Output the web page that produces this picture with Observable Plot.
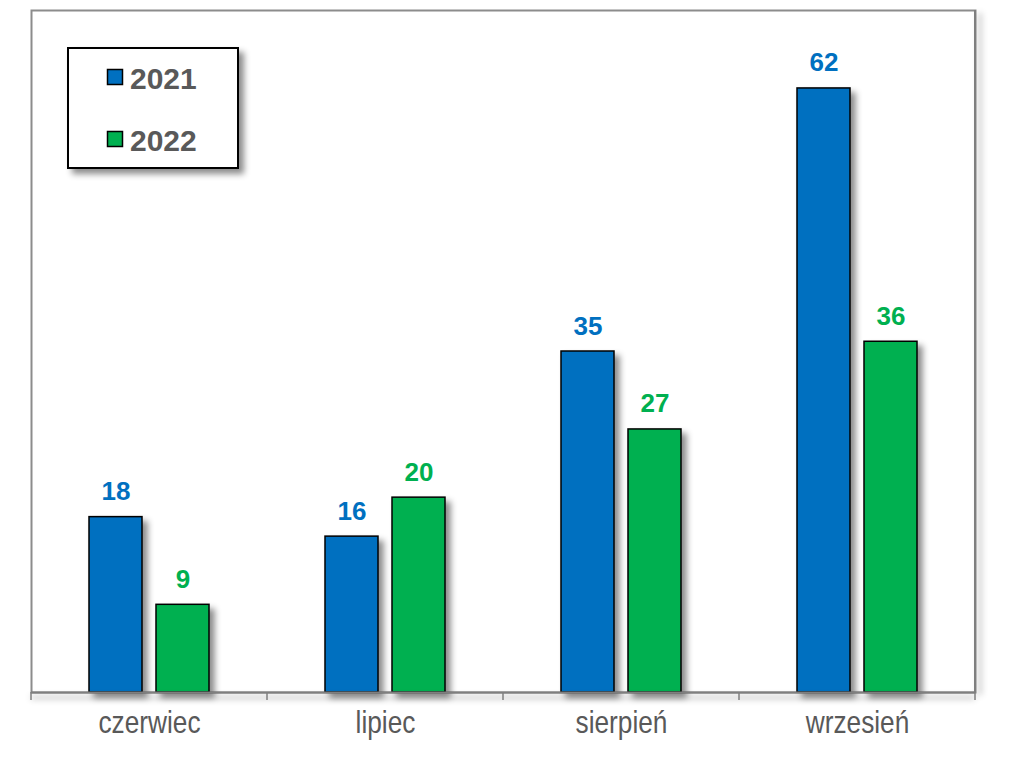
<!DOCTYPE html>
<html>
<head>
<meta charset="utf-8">
<script src="https://cdn.jsdelivr.net/npm/d3@7"></script>
<script src="https://cdn.jsdelivr.net/npm/@observablehq/plot@0.6"></script>
<style>
  body { margin: 0; background: #fff; }
  #chart { width: 1024px; height: 771px; }
</style>
</head>
<body>
<div id="chart"></div>
<script>
// ---- data ----
const months = ["czerwiec", "lipiec", "sierpień", "wrzesień"];
const years = ["2021", "2022"];
const values2021 = [18, 16, 35, 62];
const values2022 = [9, 20, 27, 36];
const colors = ["#0070C0", "#00B050"];

const rows = months.map((m, i) => ({ month: m, v2021: values2021[i], v2022: values2022[i] }));

const FONT = "'Liberation Sans', Arial, Helvetica, sans-serif";
const SHADOW = "drop-shadow(5px 5px 3px rgba(0,0,0,0.45))";

const chart = Plot.plot({
  width: 1024,
  height: 771,
  marginLeft: 31,
  marginRight: 49,
  marginTop: 10,
  marginBottom: 79,
  style: { fontFamily: FONT, background: "#fff", overflow: "visible" },
  x: { domain: months, padding: 0, axis: null },
  y: { domain: [0, 70], axis: null },
  marks: [
    Plot.frame({ stroke: "#8c8c8c", strokeWidth: 2 }),
    Plot.barY(rows, { x: "month", y: "v2021", fill: colors[0], stroke: "#000", strokeWidth: 1.5, insetLeft: 58, insetRight: 125 }),
    Plot.barY(rows, { x: "month", y: "v2022", fill: colors[1], stroke: "#000", strokeWidth: 1.5, insetLeft: 125, insetRight: 58 }),
    Plot.text(rows, { x: "month", y: "v2021", text: "v2021", dx: -33.5, dy: -17, lineAnchor: "bottom", fill: colors[0], fontSize: 26, fontWeight: "bold" }),
    Plot.text(rows, { x: "month", y: "v2022", text: "v2022", dx: 33.5, dy: -17, lineAnchor: "bottom", fill: colors[1], fontSize: 26, fontWeight: "bold" }),
    Plot.ruleY([0], { stroke: "#7f7f7f", strokeWidth: 2 }),
    Plot.text(months, { x: d => d, text: d => d, frameAnchor: "bottom", lineAnchor: "bottom", dy: 40, fontSize: 32, fill: "#595959" })
  ]
});

document.getElementById("chart").appendChild(chart);

const svg = d3.select(chart);
svg.selectAll('g[aria-label="bar"]').style("filter", SHADOW);
svg.selectAll('g[aria-label="rule"]').style("filter", "drop-shadow(0px 5px 3px rgba(0,0,0,0.4))");

// condensed look for category labels (horizontal squeeze around each label's anchor)
svg.selectAll('g[aria-label="text"]').filter((d, i) => i === 2).selectAll("text").each(function () {
  const el = this;
  const t = el.getAttribute("transform") || "";
  const x = el.getAttribute("x"), y = el.getAttribute("y");
  if (x !== null || y !== null) {
    el.removeAttribute("x"); el.removeAttribute("y");
    el.setAttribute("transform", `${t} translate(${x || 0},${y || 0}) scale(0.82,1)`);
  } else {
    el.setAttribute("transform", `${t} scale(0.82,1)`);
  }
});

// scale-derived geometry
const xs = chart.scale("x");
const ys = chart.scale("y");
const [x0, x1] = xs.range;
const n = xs.domain.length;
const step = (x1 - x0) / n;
const yBase = ys.range[0];
const yTop = ys.range[1];

// right edge with shadow
svg.append("line")
  .attr("x1", x1).attr("x2", x1).attr("y1", yTop).attr("y2", yBase)
  .attr("stroke", "#7f7f7f").attr("stroke-width", 2)
  .style("filter", "drop-shadow(5px 3px 3px rgba(0,0,0,0.4))");

// category boundary ticks
for (let i = 0; i <= n; i++) {
  svg.append("line")
    .attr("x1", x0 + i * step).attr("x2", x0 + i * step)
    .attr("y1", yBase).attr("y2", yBase + 8)
    .attr("stroke", "#7f7f7f").attr("stroke-width", 1.5);
}

// legend (inside plot area, top-left)
const lg = svg.append("g").attr("font-family", FONT).attr("text-anchor", "start");
lg.append("rect")
  .attr("x", 68).attr("y", 48).attr("width", 170).attr("height", 120)
  .attr("fill", "#fff").attr("stroke", "#000").attr("stroke-width", 2)
  .style("filter", SHADOW);
years.forEach((yr, i) => {
  const cy = 69 + i * 62;
  lg.append("rect")
    .attr("x", 107.5).attr("y", cy + 0.5).attr("width", 15).attr("height", 15)
    .attr("fill", colors[i]).attr("stroke", "#000").attr("stroke-width", 1.5);
  lg.append("text")
    .attr("x", 130).attr("y", cy + 20)
    .attr("text-anchor", "start")
    .attr("font-size", 30).attr("font-weight", "bold").attr("fill", "#595959")
    .text(yr);
});
</script>
</body>
</html>
